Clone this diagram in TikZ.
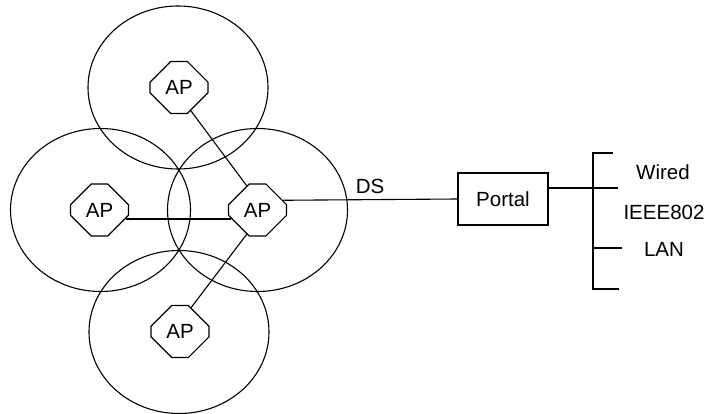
\documentclass[tikz,border=0pt]{standalone}
\usepackage{fontspec}
\setmainfont{Liberation Sans}
\usetikzlibrary{shapes.geometric,shapes.misc}

\begin{document}
\begin{tikzpicture}[x=1pt,y=-1pt,line width=1.1pt,
  font=\fontsize{20.5}{24}\selectfont,
  cell/.style={draw,ellipse,minimum width=180pt,minimum height=163pt,inner sep=0pt},
  ap/.style={draw,fill=white,chamfered rectangle,chamfered rectangle xsep=15pt,
    chamfered rectangle ysep=15pt,minimum width=58pt,minimum height=52pt,inner sep=0pt},
  portalbox/.style={draw,rectangle,minimum width=90pt,minimum height=52pt,inner sep=0pt}]
\useasboundingbox (0,0) rectangle (709,414);
\def\bx{593}

% coverage areas
\node [cell, name=cellT] at (178,87.5) {};
\node [cell, name=cellL] at (100.5,210) {};
\node [cell, name=cellR] at (257.5,210) {};
\node [cell, name=cellB] at (179,332) {};

% access points
\node [ap, name=apT] at (179,87.5) {AP};
\node [ap, name=apL] at (99.5,210) {AP};
\node [ap, name=apR] at (257.5,210) {AP};
\node [ap, name=apB] at (180,331.5) {AP};
\node [portalbox, name=portal] at (503,199) {Portal};

\draw (apT.-63) -- (apR.114);
\draw (apL.-19) -- (apR.199);
\draw (apR.246) -- (apB.65);
\draw (apR.21) -- node[above=2pt] (ds) {DS} (portal.west);

% wired LAN
\coordinate (bustop) at (\bx,153);
\coordinate (busbot) at (\bx,289);
\coordinate (wiredend) at (618,188);
\coordinate (lanend) at (622,248);
\draw ([xshift=20pt]bustop) -- (bustop) -- (busbot) -- ++(26,0);
\draw (portal.east |- wiredend) -- (wiredend);
\draw (\bx,248) -- (lanend);
\node (wired) at (663,172) {Wired};
\node (ieee) at (664,212) {IEEE802};
\node (lan) at (664,249) {LAN};
\end{tikzpicture}
\end{document}
